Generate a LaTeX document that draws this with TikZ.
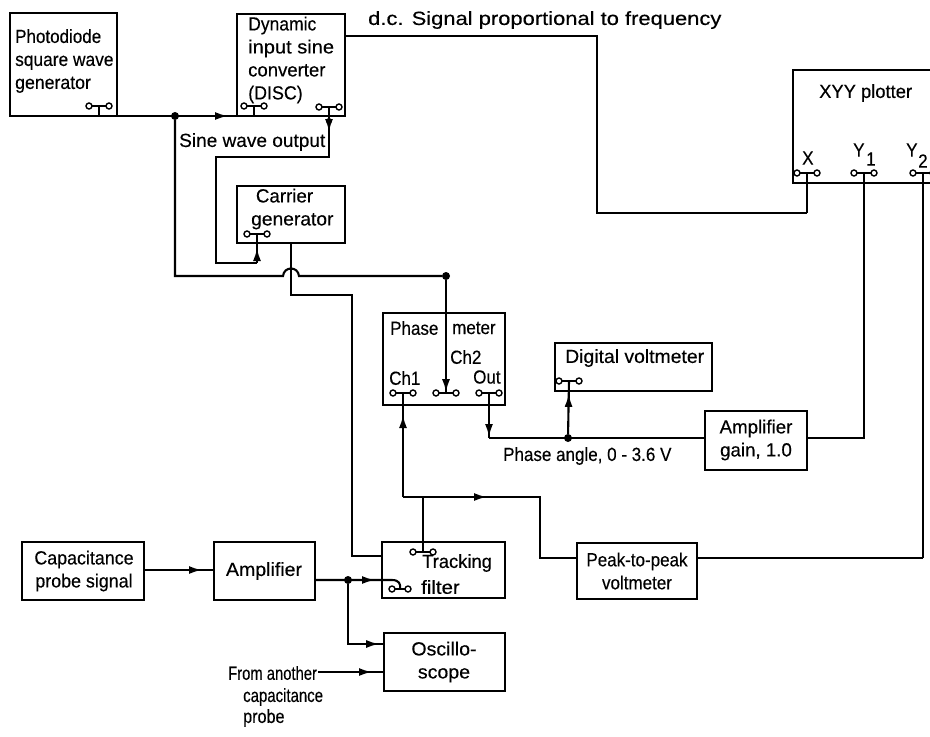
\documentclass[tikz,border=0pt]{standalone}
\usepackage{graphicx}
\usepackage{fontspec}
\setmainfont{Liberation Sans}[FakeBold=0.3,FakeStretch=0.895]
\usetikzlibrary{arrows.meta,decorations.markings}
\tikzset{
  x=1pt,y=-1pt,
  blk/.style={draw=black,line width=2pt,anchor=north west,inner sep=0pt,outer sep=0pt},
  wire/.style={draw=black,line width=2.1pt,line join=miter},
  thinwire/.style={draw=black,line width=1.3pt},
  lab/.style={inner sep=0pt,anchor=west,font=\fontsize{19}{23}\selectfont,text=black,align=left},
  dotn/.style={circle,fill=black,draw=none,minimum size=8pt,inner sep=0pt},
  arrowat/.style={postaction={decorate,decoration={markings,mark=at position #1 with {\arrow{Latex[length=13pt,width=8pt]}}}}},
  tcirc/.style={draw=black,line width=1.4pt,fill=white}
}
\newcommand{\sx}[2]{\scalebox{#1}[1]{#2}}
\newcommand{\term}[4]{% name, x, y, stem bottom y
  \coordinate (#1) at (#2,#3);
  \draw[line width=1.8pt] ({#2-10},#3) -- ({#2+10},#3);
  \draw[line width=1.8pt] (#2,#3) -- (#2,#4);
  \draw[tcirc] ({#2-10},#3) circle[radius=3pt];
  \draw[tcirc] ({#2+10},#3) circle[radius=3pt];
}
\newcommand{\blockn}[5]{% name, x0, y0, w, h
  \node[blk,minimum width=#4pt,minimum height=#5pt] (#1) at (#2,#3) {};
}
\begin{document}
\begin{tikzpicture}
\useasboundingbox (0,0) rectangle (930,737);
% blocks
\blockn{pd}{10}{13}{107}{103}
\blockn{disc}{237}{14}{108}{102}
\blockn{carr}{237}{186}{108}{57}
\blockn{phase}{383}{313}{122}{92}
\blockn{dvm}{555}{343}{157}{48}
\blockn{ampg}{705}{411}{102}{59}
\draw[wire] (930,70) -- (793,70) -- (793,183) -- (930,183);
\blockn{cap}{22}{542}{122}{58}
\blockn{amp}{214}{542}{101}{58}
\blockn{track}{382}{542}{123}{56}
\blockn{peak}{577}{543}{120}{56}
\blockn{osc}{384}{633}{121}{58}
% labels
\node[lab] (t1) at (15,61) {Photodiode\\\sx{1.02}{square wave}\\\sx{1.04}{generator}};
\node[lab] (t2) at (248,60) {\sx{1.03}{Dynamic}\\\sx{1.18}{input sine}\\\sx{1.09}{converter}\\\sx{1.05}{(DISC)}};
\node[lab] (t3) at (251,209) {\ \sx{1.1}{Carrier}\\\sx{1.13}{generator}};
\node[lab] (t4) at (390,328) {Phase};
\node[lab] (t5) at (452,328) {meter};
\node[lab] (t6) at (450,357) {Ch2};
\node[lab] (t7) at (389,378) {Ch1};
\node[lab] (t8) at (473,377) {Out};
\node[lab] (t9) at (565,358) {\sx{1.14}{Digital voltmeter}};
\node[lab,align=center,anchor=center] (t10) at (756,440) {\sx{1.1}{Amplifier}\\\sx{1.1}{gain, 1.0}};
\node[lab] (t11) at (819,93) {\sx{1.08}{XYY plotter}};
\node[lab] (t12) at (802,158) {X};
\node[lab] (t13) at (853,150) {Y};
\node[lab] (t14) at (866,159) {1};
\node[lab] (t15) at (906,150) {Y};
\node[lab] (t16) at (918,161) {2};
\node[lab,align=center,anchor=center] (t17) at (84,571) {\sx{1.05}{Capacitance}\\\sx{1.05}{probe signal}};
\node[lab,anchor=center] (t18) at (264,571) {\sx{1.15}{Amplifier}};
\node[lab] (t19) at (422,563) {\sx{1.08}{Tracking}};
\node[lab] (t20) at (421,587) {\sx{1.2}{filter}};
\node[lab,align=center,anchor=center] (t21) at (637,571) {Peak-to-peak\\voltmeter};
\node[lab,align=center,anchor=center] (t22) at (444,662) {\sx{1.15}{Oscillo-}\\\sx{1.15}{scope}};
\node[lab] (t23) at (228,673) {\sx{0.87}{From another}};
\node[lab] (t24) at (243,697) {\sx{0.88}{capacitance}};
\node[lab] (t25) at (243,718) {\sx{0.95}{probe}};
\node[lab] (t26) at (368,20) {\sx{1.29}{d.c. Signal proportional to frequency}};
\node[lab] (t27) at (179,142) {\sx{1.12}{Sine wave output}};
\node[lab] (t28) at (503,456) {Phase angle, 0 - 3.6 V};
% terminals
\term{tpd}{99}{106}{116}
\term{tdl}{254}{106}{116}
\term{tdr}{329}{107}{116}
\term{tcar}{257}{234}{243}
\term{tch1}{403}{393}{405}
\term{tch2}{446}{393}{393}
\term{tout}{489}{393}{405}
\term{tdvm}{569}{381}{391}
\term{tx}{807}{173}{183}
\term{ty1}{864}{173}{183}
\term{ty2}{923}{173}{183}
\term{ttrk}{423}{552}{552}
% filter switch input
\coordinate (tsw) at (400,589);
\draw[line width=1.6pt] (392,589) -- (408,589);
\draw[tcirc] (392,589) circle[radius=3pt];
\draw[tcirc] (408,589) circle[radius=3pt];
% dots
\node[dotn] (d1) at (175,116) {};
\node[dotn,minimum size=6pt] (d2) at (329,121) {};
\node[dotn] (d3) at (446,276) {};
\node[dotn] (d4) at (568,438) {};
\node[dotn] (d5) at (348,580) {};
% junction points
\coordinate (a1) at (216,157);
\coordinate (a2) at (329,157);
\coordinate (a3) at (216,263);
\coordinate (a4) at (257,263);
\coordinate (b1) at (175,276);
\coordinate (b2) at (283,276);
\coordinate (b3) at (299,276);
\coordinate (cs) at (291,243);
\coordinate (c1) at (291,295);
\coordinate (c2) at (352,295);
\coordinate (c3) at (352,556);
\coordinate (e1) at (597,36);
\coordinate (e2) at (597,213);
\coordinate (e3) at (807,213);
\coordinate (f1) at (864,438);
\coordinate (g1) at (923,558);
\coordinate (h1) at (489,438);
\coordinate (i1) at (403,497);
\coordinate (i2) at (423,497);
\coordinate (i3) at (540,497);
\coordinate (i4) at (540,558);
\coordinate (j1) at (348,644);
\coordinate (k1) at (318,672);
% connectors
\draw[wire,arrowat=111pt] (pd.south east) -- (disc.south west);
\draw[wire] (d1) -- (b1) -- (b2) .. controls (284,266) and (298,266) .. (b3) -- (d3);
\draw[wire,arrowat=112pt] (d3) -- (tch2);
\draw[wire,arrowat=25pt] (tdr) -- (a2) -- (a1) -- (a3) -- (a4);
\draw[wire,arrowat=15pt] (a4) -- (tcar);
\draw[wire] (cs) -- (c1) -- (c2) -- (c3) -- (c3 -| track.west);
\draw[thinwire] (disc.east |- e1) -- (e1) -- (e2) -- (e3);
\draw[wire] (e3) -- (tx);
\draw[wire] (ty1) -- (f1) -- (ampg.east |- f1);
\draw[wire] (ty2) -- (g1);
\draw[thinwire] (g1) -- (peak.east |- g1);
\draw[wire] (ampg.west |- h1) -- (h1);
\draw[wire,arrowat=44pt] (tout) -- (h1);
\draw[wire,arrowat=40pt] (d4) -- (tdvm);
\draw[wire,arrowat=82pt] (i1) -- (tch1);
\draw[wire,arrowat=84pt] (i1) -- (i3) -- (i4) -- (i4 -| peak.west);
\draw[wire] (i2) -- (ttrk);
\draw[wire,arrowat=58pt] (cap.east |- 0,570) -- (amp.west |- 0,570);
\draw[wire,arrowat=60pt] (amp.east |- d5) -- (392,580) .. controls (399,580) and (401,584) .. (tsw);
\draw[wire,arrowat=91pt] (d5) -- (j1) -- (j1 -| osc.west);
\draw[wire,arrowat=54pt] (k1) -- (k1 -| osc.west);
\end{tikzpicture}
\end{document}
